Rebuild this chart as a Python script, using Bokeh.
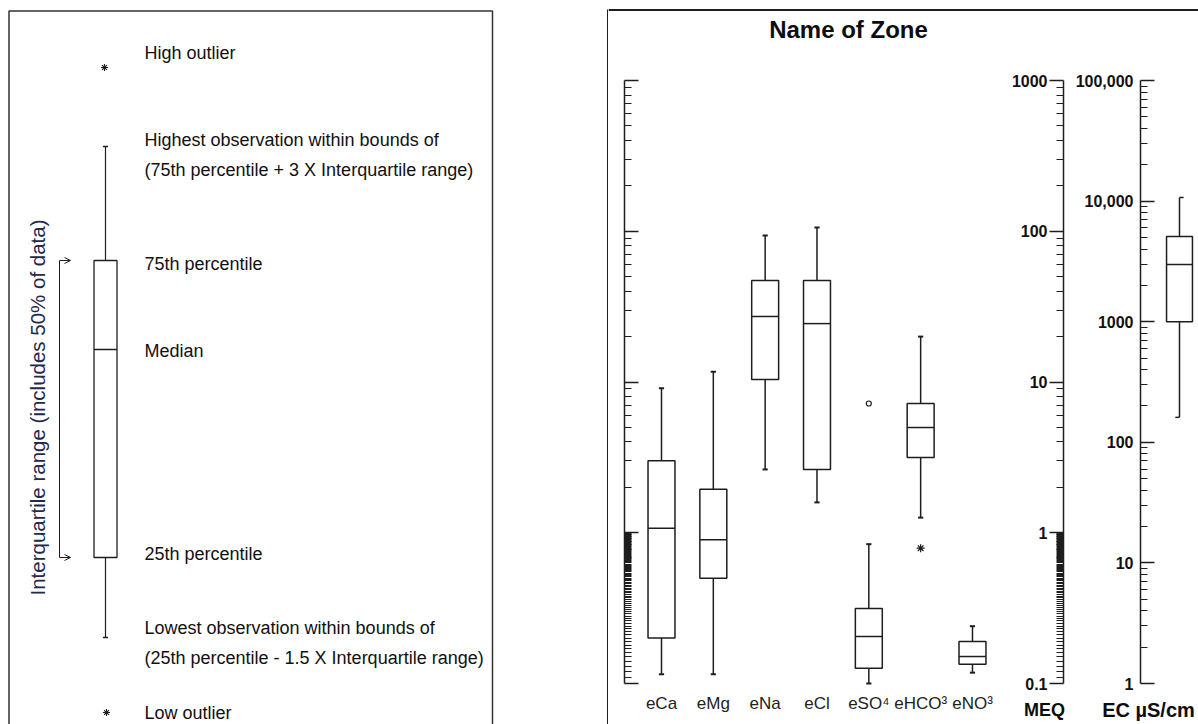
from bokeh.plotting import figure
from bokeh.layouts import row
from bokeh.models import (Range1d, LogScale, LogAxis, LinearAxis, FixedTicker,
                          CustomJSTickFormatter, Span, Arrow, OpenHead)
from bokeh.core.properties import value
from bokeh.embed import file_html
from bokeh.resources import INLINE
from math import pi

# ---------------- data ----------------
ions = ["eCa", "eMg", "eNa", "eCl", "eSO⁴", "eHCO³", "eNO³"]
whisker_high = [9.1, 11.7, 93.7, 106.0, 0.84, 20.0, 0.24]
q3 = [3.0, 1.94, 47.1, 47.1, 0.315, 7.2, 0.19]
median = [1.07, 0.90, 27.2, 24.4, 0.205, 4.99, 0.151]
q1 = [0.20, 0.50, 10.4, 2.63, 0.126, 3.16, 0.134]
whisker_low = [0.115, 0.115, 2.63, 1.59, 0.10, 1.26, 0.118]
mild_outlier_ion = ["eSO⁴"]
mild_outlier_val = [7.2]
far_outlier_ion = ["eHCO³"]
far_outlier_val = [0.79]

ec_whisker_high = [10700]
ec_q3 = [5090]
ec_median = [2980]
ec_q1 = [1000]
ec_whisker_low = [161]

meq_ticks = [0.1, 1, 10, 100, 1000]
meq_tick_labels = ["0.1", "1", "10", "100", "1000"]
ec_ticks = [1, 10, 100, 1000, 10000, 100000]
ec_tick_labels = ["1", "10", "100", "1000", "10,000", "100,000"]

# schematic example box (diagram units) for the explanatory panel
legend_stats = dict(high_out=67, whisk_hi=146, q3=260, med=349, q1=557,
                    whisk_lo=637, low_out=712)
legend_notes = [
    ("High outlier", 52.5),
    ("Highest observation within bounds of", 139.5),
    ("(75th percentile + 3 X Interquartile range)", 169.5),
    ("75th percentile", 263.5),
    ("Median", 350.5),
    ("25th percentile", 553.5),
    ("Lowest observation within bounds of", 627.5),
    ("(25th percentile - 1.5 X Interquartile range)", 657.5),
    ("Low outlier", 712.5),
]
legend_side_label = "Interquartile range (includes 50% of data)"

# ---------------- layout helpers ----------------
INK = "#1e1e1e"
FONT = "Liberation Sans"
W_TOTAL, H = 1198, 724
SPLIT = 608
W_L, W_R = SPLIT, W_TOTAL - SPLIT


def cat_at(px):          # pixel x -> category coordinate
    return 1 + (px - 661) / 51.83


def meq_at(py):          # pixel y -> MEQ value
    return 10 ** (3 - (py - 80) / 150.75)


def ec_at(py):           # pixel y -> EC value
    return 10 ** (5 - (py - 80) / 120.6)


def label_formatter(vals, labs):
    return CustomJSTickFormatter(args=dict(vals=vals, labs=labs), code="""
        for (let i = 0; i < vals.length; i++) {
            if (Math.abs(vals[i] - tick) <= 1e-9 * Math.max(1, Math.abs(tick))) return labs[i];
        }
        return "";
    """)


# ---------------- left explanatory panel ----------------
q = figure(width=W_L, height=H, x_range=Range1d(0, W_L), y_range=Range1d(H, 0),
           x_axis_location=None, y_axis_location=None, toolbar_location=None,
           output_backend="svg", min_border=0)
q.outline_line_color = None
for g in q.grid:
    g.visible = False

# panel frames
q.line(x=[8.5, 8.5, 492, 492], y=[H + 2, 10.5, 10.5, H + 2], line_color="#333", line_width=1.5)
q.line(x=[W_L, 607.5, 607.5], y=[9.5, 9.5, H + 2], line_color=INK, line_width=2)

bx = 105
q.vbar(x=[bx], width=23, top=[legend_stats["q3"]], bottom=[legend_stats["q1"]],
       fill_color="white", line_color=INK, line_width=1.3)
q.segment(x0=[bx - 11.5], x1=[bx + 11.5], y0=[legend_stats["med"]], y1=[legend_stats["med"]],
          line_color=INK, line_width=1.3)
q.segment(x0=[bx, bx], x1=[bx, bx], y0=[legend_stats["q3"], legend_stats["q1"]],
          y1=[legend_stats["whisk_hi"], legend_stats["whisk_lo"]], line_color=INK, line_width=1.2)
q.segment(x0=[bx - 2.5, bx - 2.5], x1=[bx + 2.5, bx + 2.5],
          y0=[legend_stats["whisk_hi"], legend_stats["whisk_lo"]],
          y1=[legend_stats["whisk_hi"], legend_stats["whisk_lo"]], line_color=INK, line_width=1.5)
q.scatter(x=[bx - 1, bx + 1], y=[legend_stats["high_out"], legend_stats["low_out"]],
          marker="asterisk", size=7, line_color=INK, line_width=1.1)

# bracket with arrows
q.segment(x0=[59], x1=[59], y0=[legend_stats["q3"]], y1=[legend_stats["q1"]],
          line_color=INK, line_width=1)
for yy in (legend_stats["q3"], legend_stats["q1"]):
    q.add_layout(Arrow(x_start=59, y_start=yy, x_end=70, y_end=yy, line_color=INK, line_width=1,
                       end=OpenHead(size=6, line_color=INK, line_width=1)))

q.text(x=[144] * len(legend_notes), y=[b for _, b in legend_notes], text=[t for t, _ in legend_notes],
       text_font=value(FONT), text_font_size="18px", text_color="#111",
       text_baseline="middle", text_align="left")
q.text(x=[37], y=[407], text=[legend_side_label], angle=pi / 2,
       text_font=value(FONT), text_font_size="20.5px", text_color="#22294a",
       text_baseline="middle", text_align="center")

# ---------------- right chart panel ----------------
p = figure(width=W_R, height=H, x_range=Range1d(cat_at(SPLIT), cat_at(W_TOTAL)),
           y_range=Range1d(meq_at(H), meq_at(0)), y_axis_type="log",
           x_axis_location=None, y_axis_location=None, toolbar_location=None,
           output_backend="svg", min_border=0)
p.outline_line_color = None
for g in p.grid:
    g.visible = False
p.extra_y_ranges = {"ec": Range1d(ec_at(H), ec_at(0))}
p.extra_y_scales = {"ec": LogScale()}

p.add_layout(Span(location=meq_at(9.5), dimension="width", line_color=INK, line_width=2))

meq_minor = [round(k * 0.01, 2) for k in range(11, 100)] + \
            [k * 10 ** d for d in range(0, 3) for k in range(2, 10)]
ec_minor = [k * 10 ** d for d in range(0, 5) for k in range(2, 10)]


def style_axis(ax):
    ax.axis_line_color = INK
    ax.axis_line_width = 1.5
    ax.major_tick_line_color = INK
    ax.major_tick_line_width = 1.5
    ax.minor_tick_line_color = INK
    ax.minor_tick_line_width = 1
    ax.major_label_text_font = FONT
    ax.major_label_text_font_style = "bold"
    ax.major_label_text_font_size = "16px"
    ax.major_label_text_color = "#111"


ax_plain = LogAxis(ticker=FixedTicker(ticks=meq_ticks, minor_ticks=meq_minor),
                   formatter=label_formatter(meq_ticks, [""] * len(meq_ticks)),
                   fixed_location=cat_at(623.5), bounds=(0.1, 1000))
style_axis(ax_plain)
ax_plain.major_tick_in, ax_plain.major_tick_out = 14, 0
ax_plain.minor_tick_in, ax_plain.minor_tick_out = 7, 0
p.add_layout(ax_plain, "left")

ax_meq = LogAxis(ticker=FixedTicker(ticks=meq_ticks, minor_ticks=meq_minor),
                 formatter=label_formatter(meq_ticks, meq_tick_labels),
                 fixed_location=cat_at(1063), bounds=(0.1, 1000))
style_axis(ax_meq)
ax_meq.major_tick_in, ax_meq.major_tick_out = 0, 14
ax_meq.minor_tick_in, ax_meq.minor_tick_out = 0, 7
ax_meq.major_label_standoff = 2
p.add_layout(ax_meq, "left")

ax_ec = LogAxis(y_range_name="ec", ticker=FixedTicker(ticks=ec_ticks, minor_ticks=ec_minor),
                formatter=label_formatter(ec_ticks, ec_tick_labels),
                fixed_location=cat_at(1140), bounds=(1, 100000))
style_axis(ax_ec)
ax_ec.major_tick_in, ax_ec.major_tick_out = 14, 0
ax_ec.minor_tick_in, ax_ec.minor_tick_out = 7, 0
ax_ec.major_label_standoff = 7
p.add_layout(ax_ec, "left")

pos = list(range(1, len(ions) + 1))
ax_x = LinearAxis(ticker=FixedTicker(ticks=pos, minor_ticks=[]),
                  formatter=label_formatter(pos, ions), fixed_location=0.1)
ax_x.axis_line_color = None
ax_x.major_tick_line_color = None
ax_x.minor_tick_line_color = None
ax_x.major_label_standoff = 4
ax_x.major_label_text_font = FONT
ax_x.major_label_text_font_size = "17px"
ax_x.major_label_text_color = "#222"
p.add_layout(ax_x, "below")

# boxes
BW = 0.52
p.segment(x0=pos, x1=pos, y0=q3, y1=whisker_high, line_color=INK, line_width=1.5)
p.segment(x0=pos, x1=pos, y0=q1, y1=whisker_low, line_color=INK, line_width=1.5)
p.segment(x0=[x - 0.05 for x in pos], x1=[x + 0.05 for x in pos], y0=whisker_high, y1=whisker_high,
          line_color=INK, line_width=2)
p.segment(x0=[x - 0.05 for x in pos], x1=[x + 0.05 for x in pos], y0=whisker_low, y1=whisker_low,
          line_color=INK, line_width=2)
p.vbar(x=pos, width=BW, top=q3, bottom=q1, fill_color="white", line_color=INK, line_width=1.5)
p.segment(x0=[x - BW / 2 for x in pos], x1=[x + BW / 2 for x in pos], y0=median, y1=median,
          line_color=INK, line_width=1.5)
p.scatter(x=[pos[ions.index(i)] for i in mild_outlier_ion], y=mild_outlier_val, marker="circle",
          size=5, fill_color="white", line_color=INK, line_width=1.2)
p.scatter(x=[pos[ions.index(i)] for i in far_outlier_ion], y=far_outlier_val, marker="asterisk",
          size=8, line_color=INK, line_width=1.2)

# EC box
ex = [cat_at(1179)]
EBW = 0.5
p.segment(x0=ex, x1=ex, y0=ec_q3, y1=ec_whisker_high, line_color=INK, line_width=1.5, y_range_name="ec")
p.segment(x0=ex, x1=ex, y0=ec_q1, y1=ec_whisker_low, line_color=INK, line_width=1.5, y_range_name="ec")
p.segment(x0=ex, x1=[ex[0] + 0.08], y0=ec_whisker_high, y1=ec_whisker_high, line_color=INK,
          line_width=1.5, y_range_name="ec")
p.segment(x0=[ex[0] - 0.08], x1=ex, y0=ec_whisker_low, y1=ec_whisker_low, line_color=INK,
          line_width=1.5, y_range_name="ec")
p.vbar(x=ex, width=EBW, top=ec_q3, bottom=ec_q1, fill_color="white", line_color=INK,
       line_width=1.5, y_range_name="ec")
p.segment(x0=[ex[0] - EBW / 2], x1=[ex[0] + EBW / 2], y0=ec_median, y1=ec_median,
          line_color=INK, line_width=1.5, y_range_name="ec")

# texts
p.text(x=[cat_at(848)], y=[meq_at(28.5)], text=["Name of Zone"], text_font=value(FONT),
       text_font_style="bold", text_font_size="24px", text_color="#0d0d0d",
       text_align="center", text_baseline="middle")
p.text(x=[cat_at(1044)], y=[meq_at(709.5)], text=["MEQ"], text_font=value(FONT),
       text_font_style="bold", text_font_size="18px", text_color="#0d0d0d",
       text_align="center", text_baseline="middle")
p.text(x=[cat_at(1148)], y=[meq_at(709)], text=["EC µS/cm"], text_font=value(FONT),
       text_font_style="bold", text_font_size="20px", text_color="#0d0d0d",
       text_align="center", text_baseline="middle")

layout = row(q, p)
open("out.html", "w").write(file_html(layout, INLINE))
